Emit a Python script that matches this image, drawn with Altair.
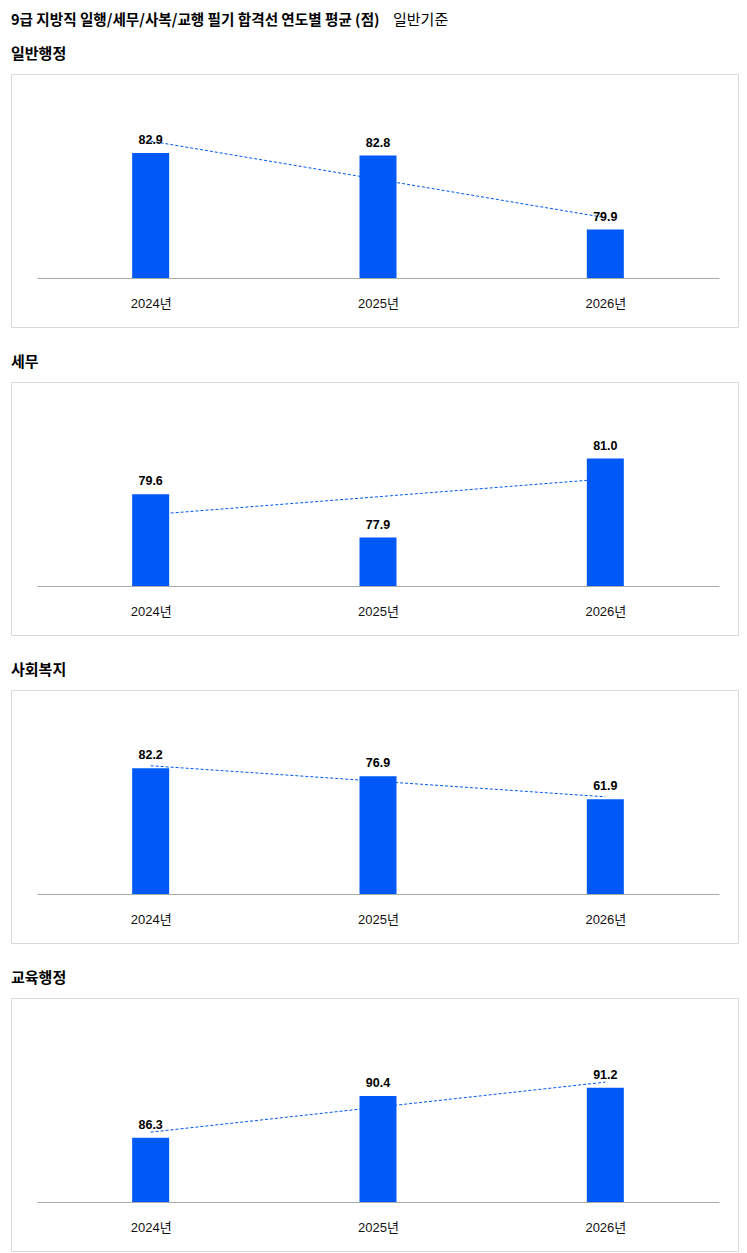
import altair as alt
import pandas as pd

years = [2024, 2025, 2026]
panel_titles = ["일반행정", "세무", "사회복지", "교육행정"]
series_general = [82.9, 82.8, 79.9]
series_tax = [79.6, 77.9, 81.0]
series_welfare = [82.2, 76.9, 61.9]
series_edu = [86.3, 90.4, 91.2]
all_series = [series_general, series_tax, series_welfare, series_edu]
y_domains = [[78, 84], [76, 82], [0, 100], [80, 95]]
header_title = "9급 지방직 일행/세무/사복/교행 필기 합격선 연도별 평균 (점)"
header_note = "일반기준"

BLUE = "#0059F6"
KFONT = "Noto Sans CJK KR"
NFONT = "Liberation Sans, Arial, Noto Sans CJK KR"

W, H = 727, 253
BASE = 204  # baseline position inside the box


def panel(i):
    df = pd.DataFrame({"year": years, "value": all_series[i]})
    dmin, dmax = y_domains[i]
    x = alt.X(
        "year:Q",
        scale=alt.Scale(domain=[2023.5, 2026.5], range=[26, 708], padding=0),
        axis=alt.Axis(
            values=years, format="d", labelExpr="datum.label + '년'",
            offset=-(H - BASE), ticks=False, tickSize=0, grid=False,
            domainColor="#aaaaaa", domainWidth=1,
            labelFontSize=13, labelPadding=19, labelColor="#111111",
            labelFont=NFONT, title=None,
        ),
    )
    y = alt.Y(
        "value:Q",
        scale=alt.Scale(domain=[dmin, dmax], range=[BASE, 51], zero=False, nice=False),
        axis=None,
    )
    base = alt.Chart(df)
    trend = base.transform_regression("year", "value").mark_line(
        color=BLUE, strokeWidth=1, strokeDash=[3, 2]
    ).encode(x=x, y=y)
    bars = base.mark_bar(size=37, color=BLUE).encode(x=x, y=y, y2=alt.datum(dmin))
    labels = base.mark_text(
        baseline="alphabetic", dy=-9, fontSize=12.5, fontWeight="bold",
        font=NFONT, color="#000000",
    ).encode(x=x, y=y, text=alt.Text("value:Q", format=".1f"))
    return alt.layer(trend, bars, labels).properties(
        width=W, height=H,
        title=alt.TitleParams(
            panel_titles[i], anchor="start", fontSize=15, fontWeight="bold",
            font=KFONT, offset=12, color="#000000",
        ),
    )


hdf = pd.DataFrame({"t": [header_title]})
ndf = pd.DataFrame({"t": [header_note]})
h1 = alt.Chart(hdf).mark_text(
    align="left", baseline="alphabetic", fontSize=14.6, fontWeight="bold",
    font=KFONT, color="#000000",
).encode(x=alt.value(0), y=alt.value(17), text="t:N")
h2 = alt.Chart(ndf).mark_text(
    align="left", baseline="alphabetic", fontSize=15, font=KFONT, color="#000000",
).encode(x=alt.value(382), y=alt.value(17), text="t:N")
header = alt.layer(h1, h2).properties(
    width=W, height=19, view=alt.ViewBackground(strokeOpacity=0)
)

panels = alt.vconcat(*[panel(i) for i in range(4)], spacing=26)

chart = alt.vconcat(header, panels, spacing=18).properties(
    padding={"left": 2, "top": 0, "right": 0, "bottom": 0}
).configure_view(stroke="#d9d9d9", strokeWidth=1)

chart.save("out.html", embed_options={"renderer": "svg", "actions": False})
